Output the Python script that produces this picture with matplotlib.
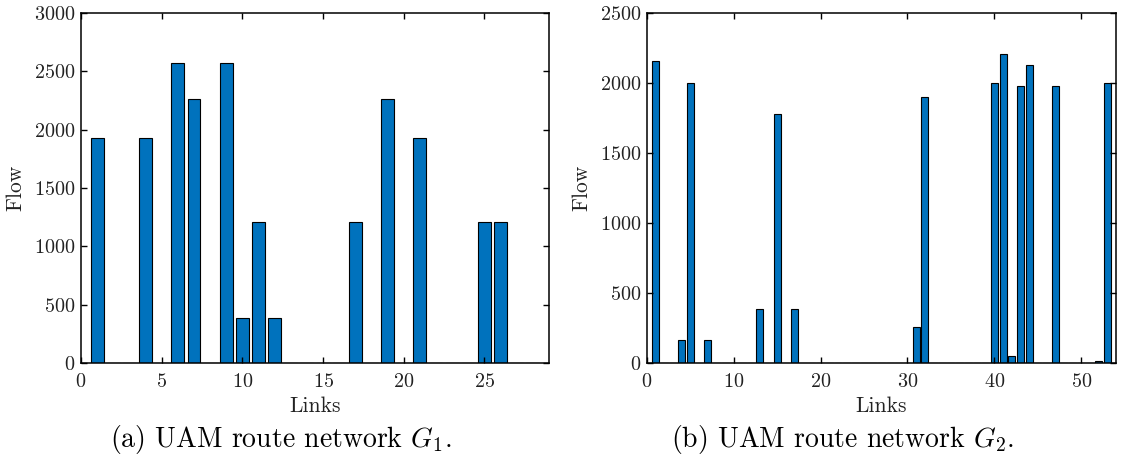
import numpy as np
import matplotlib
matplotlib.use('Agg')
import matplotlib.pyplot as plt

plt.rcParams['font.family'] = ['cmr10', 'DejaVu Serif']
plt.rcParams['mathtext.fontset'] = 'cm'
plt.rcParams['axes.formatter.use_mathtext'] = True

# flow on each link
links_g1 = np.arange(1, 29)
flow_g1 = [1930, 0, 0, 1930, 0, 2570, 2260, 0, 2570, 390,
           1210, 390, 0, 0, 0, 0, 1210, 0, 2260, 0,
           1930, 0, 0, 0, 1210, 1210, 0, 0]

links_g2 = np.arange(1, 54)
flow_g2 = [2160, 0, 0, 165, 2000, 0, 165, 0, 0, 0,
           0, 0, 385, 0, 1780, 0, 385, 0, 0, 0,
           0, 0, 0, 0, 0, 0, 0, 0, 0, 0,
           255, 1900, 0, 0, 0, 0, 0, 0, 0, 2000,
           2210, 50, 1980, 2130, 0, 0, 1980, 0, 0, 0,
           0, 15, 2000]

xticks_g1 = [0, 5, 10, 15, 20, 25]
yticks_g1 = [0, 500, 1000, 1500, 2000, 2500, 3000]
xticks_g2 = [0, 10, 20, 30, 40, 50]
yticks_g2 = [0, 500, 1000, 1500, 2000, 2500]

captions = ['(a) UAM route network $G_1$.', '(b) UAM route network $G_2$.']

bar_color = '#0072BD'
txt_color = '#222222'

fig = plt.figure(figsize=(11.22, 4.66), dpi=100)
ax1 = fig.add_axes([0.0722, 0.2210, 0.4171, 0.7511])
ax2 = fig.add_axes([0.5766, 0.2210, 0.4180, 0.7511])

panels = [
    (ax1, links_g1, flow_g1, xticks_g1, yticks_g1, (0, 29), (0, 3000)),
    (ax2, links_g2, flow_g2, xticks_g2, yticks_g2, (0, 54), (0, 2500)),
]

for ax, x, y, xt, yt, xl, yl in panels:
    ax.bar(x, y, width=0.8, color=bar_color, edgecolor='black', linewidth=0.8)
    ax.set_xlim(*xl)
    ax.set_ylim(*yl)
    ax.set_xticks(xt)
    ax.set_yticks(yt)
    ax.tick_params(direction='in', top=True, right=True, length=4, width=1.0,
                   labelsize=14.5, labelcolor=txt_color)
    ax.tick_params(axis='x', pad=7)
    ax.tick_params(axis='y', pad=4)
    for s in ax.spines.values():
        s.set_linewidth(1.1)
    ax.set_xlabel('Links', fontsize=15.5, color=txt_color, labelpad=4)
    ax.set_ylabel('Flow', fontsize=15.5, color=txt_color, labelpad=6)

fig.text(0.2505, 0.056, captions[0], fontsize=20, ha='center', va='center')
fig.text(0.7505, 0.056, captions[1], fontsize=20, ha='center', va='center')

fig.savefig('out.png', dpi=100)
